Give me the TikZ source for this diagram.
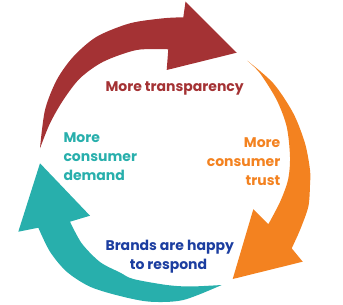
\documentclass[tikz,border=0pt]{standalone}
\usepackage{fontspec}
\setmainfont{Poppins}
\definecolor{cred}{RGB}{164,50,52}
\definecolor{corange}{RGB}{243,130,32}
\definecolor{cteal}{RGB}{40,175,172}
\definecolor{cblue}{RGB}{28,62,160}
\tikzset{
  lbl/.style={inner sep=0pt, font=\fontsize{14}{18.7}\selectfont\bfseries},
}
\begin{document}
\begin{tikzpicture}[x=1pt,y=-1pt]
\useasboundingbox (0,0) rectangle (343,305);
% red arrow
\fill[cred] plot[smooth] coordinates {(40,148.3) (45,110) (56.7,80) (73.3,56.7) (96.7,36.7) (130,23.3) (163.3,18.3) (183.3,17.3)}
  -- (185.5,1.7) -- (236.7,52.7) -- (166.7,70) -- (168.3,49.3)
  -- plot[smooth] coordinates {(168.3,49.3) (136.7,50) (103.3,61.7) (80,78.3) (63.3,100) (50,123.3) (40,148.3)} -- cycle;
% orange arrow
\fill[corange] plot[smooth] coordinates {(247.3,60.7) (273.3,83.3) (293.3,113.3) (305,143.3) (310,170) (310,185) (308.3,206.7) (300,230) (291.7,248.3)}
  -- (302.7,261.7) -- (232.7,279) -- (253.3,209.3) -- (268.3,224.3)
  -- plot[smooth] coordinates {(268.3,224.3) (280,202) (288,180) (290,157) (286.7,126.7) (276.7,100) (260,73.3) (247.3,60.7)} -- cycle;
% teal arrow
\fill[cteal] plot[smooth] coordinates {(221.7,285) (183.3,300) (150,301.7) (120,296) (90,286.7) (66.7,271.7) (50,251.7) (38.3,227.7)}
  -- (18.3,231.7) -- (40,163.3) -- (90,215.7) -- (70,221.7)
  -- plot[smooth] coordinates {(70,221.7) (81.7,243.3) (100,262) (120,272.5) (133.3,279) (166.7,285) (190,286.5) (221.7,285)} -- cycle;
% labels
\node[lbl, text=cred, anchor=base] (t1) at (174.7,91.7) {More transparency};
\node[lbl, text=corange, anchor=base east] (o1) at (280.5,147.5) {More};
\node[lbl, text=corange, anchor=base east] (o2) at (280.5,166.5) {consumer};
\node[lbl, text=corange, anchor=base east] (o3) at (280.5,185) {trust};
\node[lbl, text=cblue, anchor=base] (b1) at (169.7,250) {Brands are happy};
\node[lbl, text=cblue, anchor=base] (b2) at (168.5,269) {to respond};
\node[lbl, text=cteal, anchor=base west] (d1) at (63.3,142.7) {More};
\node[lbl, text=cteal, anchor=base west] (d2) at (63.3,161.7) {consumer};
\node[lbl, text=cteal, anchor=base west] (d3) at (63.3,180) {demand};
\end{tikzpicture}
\end{document}
